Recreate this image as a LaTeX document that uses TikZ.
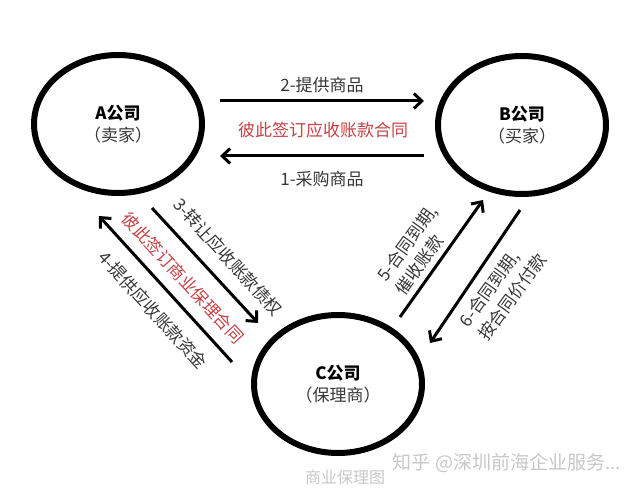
\documentclass[tikz,border=0pt]{standalone}
\usepackage{fontspec}
\setmainfont{Noto Sans CJK SC}
\usetikzlibrary{arrows.meta,shapes.geometric}
\definecolor{txt}{RGB}{55,55,55}
\definecolor{redtxt}{RGB}{198,66,68}
\definecolor{wm}{RGB}{200,200,200}
\begin{document}
\begin{tikzpicture}[x=1pt,y=-1pt,
  party/.style={draw=black, line width=6pt, ellipse, minimum width=168pt, minimum height=138pt,
    inner sep=0pt, align=center, text=txt, font=\fontsize{17}{22}\selectfont},
  flow/.style={line width=3pt, -{Straight Barb[length=8pt,width=15pt]}},
  lbl/.style={font=\fontsize{17}{23}\selectfont, text=txt, inner sep=0pt, align=left},
  redlbl/.style={lbl, text=redtxt}]
\useasboundingbox (0,0) rectangle (635,489);
\fill[white] (0,0) rectangle (635,489);

% parties
\node[party] (A) at (118,124) {{\bfseries\color{black}A公司}\\（卖家）};
\node[party] (B) at (522,125) {{\bfseries\color{black}B公司}\\（买家）};
\node[party] (C) at (338,384) {{\bfseries\color{black}C公司}\\（保理商）};

% arrow end points
\coordinate (a2s) at (220,101); \coordinate (a2e) at (424,101);
\coordinate (a1s) at (424,156); \coordinate (a1e) at (220,156);
\coordinate (a3s) at (152,208); \coordinate (a3e) at (258,323);
\coordinate (a4s) at (232,362); \coordinate (a4e) at (99,216);
\coordinate (a5s) at (400,317); \coordinate (a5e) at (483,200);
\coordinate (a6s) at (520,210); \coordinate (a6e) at (430,343);

\draw[flow] (a2s) -- (a2e);
\draw[flow] (a1s) -- (a1e);
\draw[flow] (a3s) -- (a3e);
\draw[flow] (a4s) -- (a4e);
\draw[flow] (a5s) -- (a5e);
\draw[flow] (a6s) -- (a6e);

% labels
\node[lbl] (l2) at (322,85) {2-提供商品};
\node[redlbl] (r1) at (323,130) {彼此签订应收账款合同};
\node[lbl] (l1) at (322,179) {1-采购商品};
\node[lbl, rotate=-47.5] (l3) at (228,257) {3-转让应收账款债权};
\node[redlbl, rotate=-47.5] (r2) at (183,278) {彼此签订商业保理合同};
\node[lbl, rotate=-47.5] (l4) at (153,310) {4-提供应收账款资金};
\node[lbl, rotate=54] (l5) at (416,250) {5-合同到期,\\催收账款};
\node[lbl, rotate=54] (l6) at (503,290) {6-合同到期,\\按合同价付款};

% caption and watermark
\node[font=\fontsize{16}{16}\selectfont, text=wm, inner sep=0pt] (cap) at (345,477) {商业保理图};
\node[font=\fontsize{19}{19}\selectfont, text=wm, inner sep=0pt] (wmk) at (507,463) {知乎 @深圳前海企业服务...};
\end{tikzpicture}
\end{document}
